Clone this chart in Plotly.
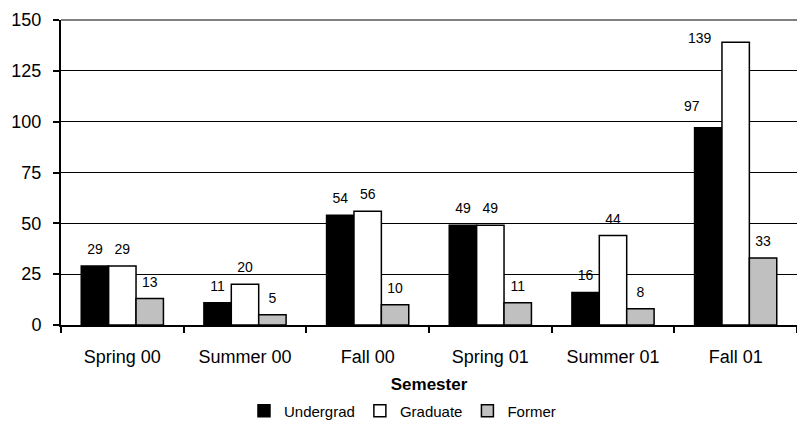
import plotly.graph_objects as go

semesters = ["Spring 00", "Summer 00", "Fall 00", "Spring 01", "Summer 01", "Fall 01"]
undergrad = [29, 11, 54, 49, 16, 97]
graduate = [29, 20, 56, 49, 44, 139]
former = [13, 5, 10, 11, 8, 33]

series = [
    ("Undergrad", undergrad, "#000000"),
    ("Graduate", graduate, "#FFFFFF"),
    ("Former", former, "#C0C0C0"),
]

FONT = "Arial, Liberation Sans, sans-serif"
# in the original the two tall Fall 01 labels were pushed off to the left of their bars
moved = {"Undergrad": (-44, 12, "bottom"), "Graduate": (-36, 4, "middle")}

fig = go.Figure()
for name, vals, col in series:
    fig.add_trace(go.Bar(
        x=semesters, y=vals, name=name, offsetgroup=name,
        marker=dict(color=col, line=dict(color="#000000", width=1.5)),
    ))
    labels = [str(v) for v in vals]
    if name in moved:
        xs, ys, anchor = moved[name]
        fig.add_annotation(x=semesters[-1], y=vals[-1], text=labels[-1], showarrow=False,
                           xshift=xs, yshift=ys, yanchor=anchor,
                           font=dict(size=14, color="#000000", family=FONT))
        labels[-1] = ""
    fig.add_trace(go.Scatter(
        x=semesters, y=vals, offsetgroup=name, mode="markers+text",
        marker=dict(size=12, opacity=0), text=labels, textposition="top center",
        textfont=dict(size=14, color="#000000", family=FONT),
        showlegend=False, hoverinfo="skip", cliponaxis=False,
    ))

fig.update_layout(
    width=797, height=421,
    margin=dict(l=61, r=0, t=20, b=95.5, autoexpand=False),
    paper_bgcolor="white", plot_bgcolor="white",
    font=dict(family=FONT, color="#000000"),
    barmode="group", bargap=0.33, bargroupgap=0,
    scattermode="group", scattergap=0.33,
    showlegend=True,
    legend=dict(orientation="h", xref="container", x=0.505, xanchor="center",
                yref="container", y=0.024, yanchor="middle",
                font=dict(size=15), traceorder="normal"),
    shapes=[dict(type="line", xref="paper", yref="paper", x0=0, x1=1, y0=1, y1=1,
                 line=dict(color="#808080", width=2))],
)
fig.update_xaxes(
    showline=True, linecolor="#000000", linewidth=2, automargin=False,
    ticks="outside", tickson="boundaries", ticklen=6, tickwidth=2, tickcolor="#000000",
    tickfont=dict(size=18), ticklabelstandoff=14,
    title=dict(text="<b>Semester</b>", font=dict(size=17), standoff=18),
)
fig.update_yaxes(
    range=[0, 150], dtick=25, showline=True, linecolor="#000000", linewidth=2,
    automargin=False,
    ticks="outside", ticklen=6, tickwidth=2, tickcolor="#000000",
    tickfont=dict(size=18), ticklabelstandoff=8,
    showgrid=True, gridcolor="#000000", gridwidth=1, zeroline=False,
)

# drop the browser's default page margin so the figure sits at the window's corner
fig.write_html("out.html", config={"displayModeBar": False},
               post_script="document.body.style.margin='0';")
